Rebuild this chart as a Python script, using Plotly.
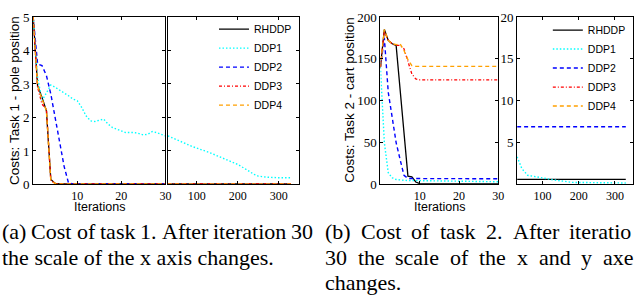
import plotly.graph_objects as go

# ---------------- data ----------------
SERIES = ["RHDDP", "DDP1", "DDP2", "DDP3", "DDP4"]

# Task 1 (pole position), iterations 0..30
t1_iters = [0, 1, 2, 3, 4, 5, 6, 7, 8, 9, 10, 11, 12, 13, 14, 15, 16, 17, 18, 19, 20,
            21, 22, 23, 24, 25, 26, 27, 28, 29, 30]
t1_rhddp = [5.0, 2.95, 2.6, 2.2, 0.15, 0.03, 0.02, 0.02, 0.02, 0.02, 0.02, 0.02, 0.02, 0.02,
            0.02, 0.02, 0.02, 0.02, 0.02, 0.02, 0.02, 0.02, 0.02, 0.02, 0.02, 0.02, 0.02,
            0.02, 0.02, 0.02, 0.02]
t1_ddp1 = [5.0, 3.2, 2.5, 2.75, 2.97, 2.9, 2.82, 2.75, 2.65, 2.55, 2.5, 2.3, 2.05, 1.9, 1.88,
           1.92, 1.95, 1.8, 1.7, 1.65, 1.6, 1.55, 1.55, 1.55, 1.52, 1.48, 1.5, 1.58, 1.55,
           1.5, 1.45]
t1_ddp2 = [5.0, 3.6, 3.55, 3.25, 2.7, 2.0, 1.3, 0.55, 0.05, 0.02, 0.02, 0.02, 0.02, 0.02,
           0.02, 0.02, 0.02, 0.02, 0.02, 0.02, 0.02, 0.02, 0.02, 0.02, 0.02, 0.02, 0.02,
           0.02, 0.02, 0.02, 0.02]
t1_ddp3 = [5.0, 2.9, 2.4, 2.25, 0.12, 0.03, 0.02, 0.02, 0.02, 0.02, 0.02, 0.02, 0.02, 0.02,
           0.02, 0.02, 0.02, 0.02, 0.02, 0.02, 0.02, 0.02, 0.02, 0.02, 0.02, 0.02, 0.02,
           0.02, 0.02, 0.02, 0.02]
t1_ddp4 = [5.0, 2.95, 2.55, 2.2, 0.12, 0.03, 0.02, 0.02, 0.02, 0.02, 0.02, 0.02, 0.02, 0.02,
           0.02, 0.02, 0.02, 0.02, 0.02, 0.02, 0.02, 0.02, 0.02, 0.02, 0.02, 0.02, 0.02,
           0.02, 0.02, 0.02, 0.02]

# Task 1, iterations 30..330 (changed x scale)
t1_long_iters = [30, 60, 90, 130, 170, 200, 225, 240, 250, 270, 300, 330]
t1_long_ddp1 = [1.45, 1.3, 1.13, 0.96, 0.76, 0.6, 0.42, 0.3, 0.25, 0.22, 0.2, 0.2]
t1_long_flat_iters = [30, 330]
t1_long_rhddp = [0.02, 0.02]
t1_long_ddp2 = [0.02, 0.02]
t1_long_ddp3 = [0.02, 0.02]
t1_long_ddp4 = [0.02, 0.02]

# Task 2 (cart position), iterations 0..30
t2_iters = t1_iters
t2_rhddp = [140, 185, 172, 168, 166, 112, 60, 10, 9, 3, 1.0, 0.7, 0.6, 0.6, 0.6, 0.6, 0.6,
            0.6, 0.6, 0.6, 0.6, 0.6, 0.6, 0.6, 0.6, 0.6, 0.6, 0.6, 0.6, 0.6, 0.6]
t2_ddp1 = [140, 50, 14, 8, 6, 5.2, 5.0, 4.8, 4.7, 4.6, 4.5, 4.4, 4.3, 4.2, 4.1, 4.0, 3.95,
           3.9, 3.85, 3.8, 3.75, 3.7, 3.65, 3.6, 3.55, 3.5, 3.45, 3.4, 3.38, 3.35, 3.3]
t2_ddp2 = [140, 175, 110, 80, 50, 30, 11, 7.2, 7.0, 7.0, 7.0, 7.0, 7.0, 7.0, 7.0, 7.0, 7.0,
           7.0, 7.0, 7.0, 7.0, 7.0, 7.0, 6.9, 6.9, 6.9, 6.9, 6.9, 6.9, 6.9, 6.9]
t2_ddp3 = [140, 183, 172, 168, 166, 166, 162, 148, 132, 126, 125, 125, 125, 125, 125, 125,
           125, 125, 125, 125, 125, 125, 125, 125, 125, 125, 125, 125, 125, 125, 125]
t2_ddp4 = [140, 185, 172, 168, 167, 168, 160, 149, 142, 141, 141, 141, 141, 141, 141, 141,
           141, 141, 141, 141, 141, 141, 141, 141, 141, 141, 141, 141, 141, 141, 141]

# Task 2, iterations 30..330 (changed x and y scale)
t2_long_ddp1_iters = [30, 43, 59, 96, 130, 183, 250, 330]
t2_long_ddp1 = [3.3, 1.9, 1.1, 0.8, 0.55, 0.25, 0.2, 0.18]
t2_long_flat_iters = [30, 330]
t2_long_rhddp = [0.6, 0.6]
t2_long_ddp2 = [6.9, 6.9]
t2_long_ddp3 = [125, 125]
t2_long_ddp4 = [141, 141]

# tick labels
t1_yticks = [0, 1, 2, 3, 4, 5]
t2_yticks = [0, 50, 100, 150, 200]
t2_long_yticks = [5, 10, 15, 20]
short_xticks = [10, 20, 30]
long_xticks = [100, 200, 300]

# captions
cap_a = ["(a) Cost of task 1. After iteration 30", "the scale of the x axis changes."]
cap_b = ["(b) Cost of task 2. After iteratio", "30 the scale of the x and y axe", "changes."]

# ---------------- styles ----------------
STYLE = {
    "RHDDP": dict(color="#000000", dash="solid", width=1.3),
    "DDP1": dict(color="#00FFFF", dash="1.5px,2px", width=1.4),
    "DDP2": dict(color="#0000FF", dash="4px,3px", width=1.4),
    "DDP3": dict(color="#FF0000", dash="3px,2px,1px,2px", width=1.3),
    "DDP4": dict(color="#FFA000", dash="4px,3px", width=1.4),
}

W, H = 642, 295
SERIF = "Liberation Serif"
SANS = "Liberation Sans"


def px_x(v):
    return v / W


def px_y(v):
    return 1 - v / H


fig = go.Figure()


def add(x, y, name, xa, ya, legend=None):
    s = STYLE[name]
    fig.add_trace(go.Scatter(
        x=x, y=y, mode="lines", name=name,
        line=dict(color=s["color"], dash=s["dash"], width=s["width"]),
        xaxis=xa, yaxis=ya, showlegend=legend is not None,
        legend=legend if legend else "legend", hoverinfo="skip"))


# panel a
for name, vals in zip(SERIES, [t1_rhddp, t1_ddp1, t1_ddp2, t1_ddp3, t1_ddp4]):
    add(t1_iters, vals, name, "x", "y")
add(t1_long_flat_iters, t1_long_rhddp, "RHDDP", "x2", "y2", "legend")
add(t1_long_iters, t1_long_ddp1, "DDP1", "x2", "y2", "legend")
add(t1_long_flat_iters, t1_long_ddp2, "DDP2", "x2", "y2", "legend")
add(t1_long_flat_iters, t1_long_ddp3, "DDP3", "x2", "y2", "legend")
add(t1_long_flat_iters, t1_long_ddp4, "DDP4", "x2", "y2", "legend")

# panel b
for name, vals in zip(SERIES, [t2_rhddp, t2_ddp1, t2_ddp2, t2_ddp3, t2_ddp4]):
    add(t2_iters, vals, name, "x3", "y3")
add(t2_long_flat_iters, t2_long_rhddp, "RHDDP", "x4", "y4", "legend2")
add(t2_long_ddp1_iters, t2_long_ddp1, "DDP1", "x4", "y4", "legend2")
add(t2_long_flat_iters, t2_long_ddp2, "DDP2", "x4", "y4", "legend2")
add(t2_long_flat_iters, t2_long_ddp3, "DDP3", "x4", "y4", "legend2")
add(t2_long_flat_iters, t2_long_ddp4, "DDP4", "x4", "y4", "legend2")

ax_common = dict(showline=True, linecolor="black", linewidth=1, mirror="ticks",
                 ticks="inside", ticklen=3, tickcolor="black", showgrid=False,
                 zeroline=False, tickfont=dict(family=SERIF, size=13, color="black"))
xax = dict(ax_common, tickfont=dict(family=SERIF, size=12, color="black"))

y_dom = [px_y(187), px_y(10.5)]
fig.update_layout(
    width=W, height=H, margin=dict(l=0, r=0, t=0, b=0),
    paper_bgcolor="white", plot_bgcolor="white",
    xaxis=dict(domain=[px_x(33.5), px_x(167)], range=[0, 30], tickvals=short_xticks,
               anchor="y", **xax),
    yaxis=dict(domain=y_dom, range=[0, 5], tickvals=t1_yticks, anchor="x", **ax_common),
    xaxis2=dict(domain=[px_x(169.5), px_x(302)], range=[30, 350], tickvals=long_xticks,
                anchor="y2", **xax),
    yaxis2=dict(domain=y_dom, range=[0, 5], tickvals=t1_yticks, showticklabels=False,
                anchor="x2", **ax_common),
    xaxis3=dict(domain=[px_x(384), px_x(503)], range=[0, 30], tickvals=short_xticks,
                anchor="y3", **xax),
    yaxis3=dict(domain=y_dom, range=[0, 200], tickvals=t2_yticks, anchor="x3", **ax_common),
    xaxis4=dict(domain=[px_x(522), px_x(639)], range=[30, 350], tickvals=long_xticks,
                anchor="y4", **xax),
    yaxis4=dict(domain=y_dom, range=[0, 20], tickvals=t2_long_yticks, anchor="x4",
                **ax_common),
    legend=dict(x=px_x(216), y=px_y(8), xanchor="left", yanchor="top",
                bgcolor="rgba(0,0,0,0)", font=dict(family=SANS, size=10.5, color="black")),
    legend2=dict(x=px_x(553), y=px_y(9), xanchor="left", yanchor="top",
                 bgcolor="rgba(0,0,0,0)", font=dict(family=SANS, size=10.5, color="black")),
)

ann = []
ann.append(dict(text="Costs: Task 1 - pole position", x=px_x(14), y=px_y(98), textangle=-90,
                font=dict(family=SANS, size=13.5, color="black")))
ann.append(dict(text="Costs: Task 2 - cart position", x=px_x(352), y=px_y(98), textangle=-90,
                font=dict(family=SANS, size=13.5, color="black")))
ann.append(dict(text="Iterations", x=px_x(100), y=px_y(211),
                font=dict(family=SANS, size=12.5, color="black")))
ann.append(dict(text="Iterations", x=px_x(443.5), y=px_y(211),
                font=dict(family=SANS, size=12.5, color="black")))
for a in ann:
    a.setdefault("xanchor", "center")

# ---- captions (Times metrics for justified lines) ----
CAP_SIZE = 22
TIMES_W = {" ": 250, "(": 333, ")": 333, ".": 250, "A": 722, "C": 667, "a": 444, "b": 500,
           "c": 444, "d": 500, "e": 444, "f": 333, "g": 500, "h": 500, "i": 278, "k": 500,
           "l": 278, "n": 500, "o": 500, "r": 333, "s": 389, "t": 278, "x": 500, "y": 500}


def tw(word):
    return sum(TIMES_W.get(c, 500) for c in word) * CAP_SIZE / 1000.0


cap_font = dict(family=SERIF, size=CAP_SIZE, color="black")


def justified(words, x0, x1, y, measure=None):
    measure = measure or words
    widths = [tw(w) for w in measure]
    gap = (x1 - x0 - sum(widths)) / (len(words) - 1)
    x = x0
    for w, wd in zip(words, widths):
        ann.append(dict(text=w, x=px_x(x), y=px_y(y), xanchor="left", font=cap_font))
        x += wd + gap


def plain(text, x0, y):
    ann.append(dict(text=text, x=px_x(x0), y=px_y(y), xanchor="left", font=cap_font))


LINE_Y = [237, 264, 290]
justified(cap_a[0].split(" "), 2, 316, LINE_Y[0])
plain(cap_a[1], 2, LINE_Y[1])
wb = cap_b[0].split(" ")
justified(wb, 328, 648, LINE_Y[0], measure=wb[:-1] + ["iteration"])
wb2 = cap_b[1].split(" ")
justified(wb2, 328, 648, LINE_Y[1], measure=wb2[:-1] + ["axes"])
plain(cap_b[2], 328, LINE_Y[2])

for a in ann:
    a.update(xref="paper", yref="paper", yanchor="middle", showarrow=False,
             borderpad=0, borderwidth=0)
fig.update_layout(annotations=ann)

fig.write_html("out.html", config={"displayModeBar": False},
               post_script="document.body.style.margin='0';")
